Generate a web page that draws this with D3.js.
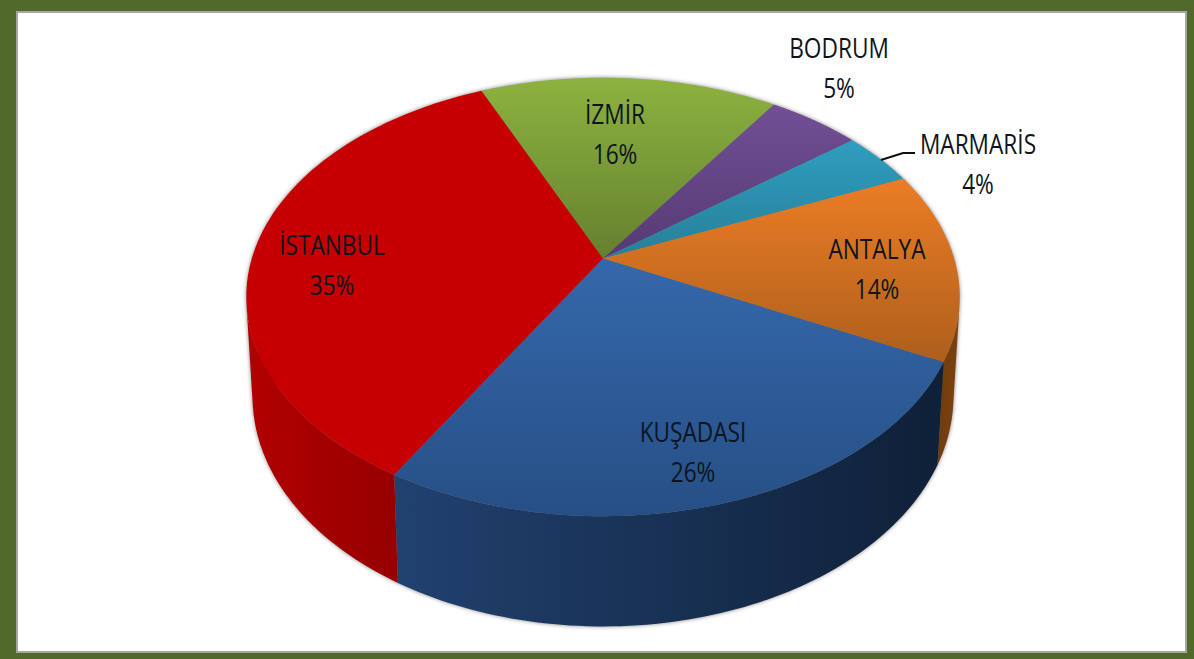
<!DOCTYPE html>
<html><head><meta charset="utf-8">
<style>html,body{margin:0;padding:0;background:#fff}svg{display:block}
text{font-family:"Open Sans",sans-serif;font-size:28px;fill:#0d1420;text-anchor:middle}</style>
<script src="https://cdn.jsdelivr.net/npm/d3@7"></script></head><body>
<svg id="c" width="1194" height="659"></svg>
<script>
const categories = ["İZMİR","BODRUM","MARMARİS","ANTALYA","KUŞADASI","İSTANBUL"];
const values = [16,5,4,14,26,35];
const percentLabels = ["16%","5%","4%","14%","26%","35%"];
const topColors = [["#8db23f","#64812f"],["#714f95","#553a73"],["#2f9ebf","#277f99"],["#ec7d24","#ad5f1d"],["#3568ab","#264f85"],["#c60000","#c60000"]];
const wallColors = [null,null,null,["#5a300c","#7c420f"],["#21416f","#0f2038"],["#b20000","#960000"]];

// layout (not data)
const W=1194,H=659;
const deg=Math.PI/180, startDeg=-23.7;
const top_={cx:603,cy:258.5,a:351.2,b:212.5,k:0.1754};
const bot_={cx:603,cy:356,a:345,b:223,k:0.1754};
const labelXY=[[615,124],[839,58],[978,154],[877,259],[693,442],[332,255]];
const lineGap=40, textScaleX=0.81;
const silhouetteBands=[[66*deg,105*deg],[250*deg,300*deg]];

const svg=d3.select("#c");
const defs=svg.append("defs");
svg.append("rect").attr("width",W).attr("height",H).attr("fill","#52692c");
svg.append("rect").attr("x",16).attr("y",11).attr("width",1171).attr("height",642).attr("fill","#a6a6a6");
svg.append("rect").attr("x",18).attr("y",13).attr("width",1167).attr("height",638).attr("fill","#fff");

const f=defs.append("filter").attr("id","sh").attr("x","-10%").attr("y","-10%").attr("width","120%").attr("height","120%");
f.append("feGaussianBlur").attr("stdDeviation",2.2);

const project=(p,t)=>{const u=Math.sin(t),v=-Math.cos(t),d=1-p.k*v;return [p.cx+p.a*u/d,p.cy+p.b*v/d];};
const arcs=d3.pie().sort(null).startAngle(startDeg*deg).endAngle((startDeg+360)*deg)(values);
const line=d3.line();
const samples=(a,b)=>d3.range(0,81).map(i=>a+(b-a)*i/80);

topColors.forEach((c,i)=>{
  const g=defs.append("linearGradient").attr("id","t"+i).attr("x1",0).attr("y1",0).attr("x2",0).attr("y2",1);
  g.append("stop").attr("offset",0).attr("stop-color",c[0]);
  g.append("stop").attr("offset",1).attr("stop-color",c[1]);
});

// soft shadow around the cylinder outline
const ring=samples(0,2*Math.PI);
const outline=d3.polygonHull(ring.map(t=>project(top_,t)).concat(ring.map(t=>project(bot_,t))));
svg.append("path").attr("d",line(outline)+"Z").attr("fill","#555").attr("opacity",.75).attr("filter","url(#sh)");

// walls: a strip between the rims, plus a hull near the sides for the straight silhouette
arcs.forEach((d,i)=>{
  if(!wallColors[i])return;
  const a=Math.max(d.startAngle,silhouetteBands[0][0]),b=Math.min(d.endAngle,silhouetteBands[1][1]);
  const ts=samples(a,b);
  let path=line(ts.map(t=>project(top_,t)).concat(ts.slice().reverse().map(t=>project(bot_,t))))+"Z";
  let all=ts.map(t=>project(top_,t)).concat(ts.map(t=>project(bot_,t)));
  silhouetteBands.forEach(([s,e])=>{
    const sa=Math.max(a,s),sb=Math.min(b,e);
    if(sb>sa){
      const q=samples(sa,sb);
      const hull=d3.polygonHull(q.map(t=>project(top_,t)).concat(q.map(t=>project(bot_,t))));
      path+=line(hull)+"Z"; all=all.concat(hull);
    }
  });
  const xs=d3.extent(all,p=>p[0]);
  const g=defs.append("linearGradient").attr("id","w"+i).attr("gradientUnits","userSpaceOnUse")
    .attr("x1",xs[0]).attr("x2",xs[1]).attr("y1",0).attr("y2",0);
  g.append("stop").attr("offset",0).attr("stop-color",wallColors[i][0]);
  g.append("stop").attr("offset",1).attr("stop-color",wallColors[i][1]);
  svg.append("path").attr("d",path).attr("fill",`url(#w${i})`);
});

// top surface
arcs.forEach((d,i)=>{
  const pts=[[top_.cx,top_.cy]].concat(samples(d.startAngle,d.endAngle).map(t=>project(top_,t)));
  svg.append("path").attr("d",line(pts)+"Z").attr("fill",`url(#t${i})`);
});

// leader for MARMARİS
svg.append("path").attr("d",line([[881,160],[903,153],[915,153]])).attr("fill","none").attr("stroke","#111").attr("stroke-width",2);

// labels
categories.forEach((c,i)=>{
  const [x,y]=labelXY[i];
  const g=svg.append("g").attr("transform",`translate(${x},${y}) scale(${textScaleX},1)`);
  g.append("text").text(c);
  g.append("text").attr("y",lineGap).text(percentLabels[i]);
});
</script></body></html>
